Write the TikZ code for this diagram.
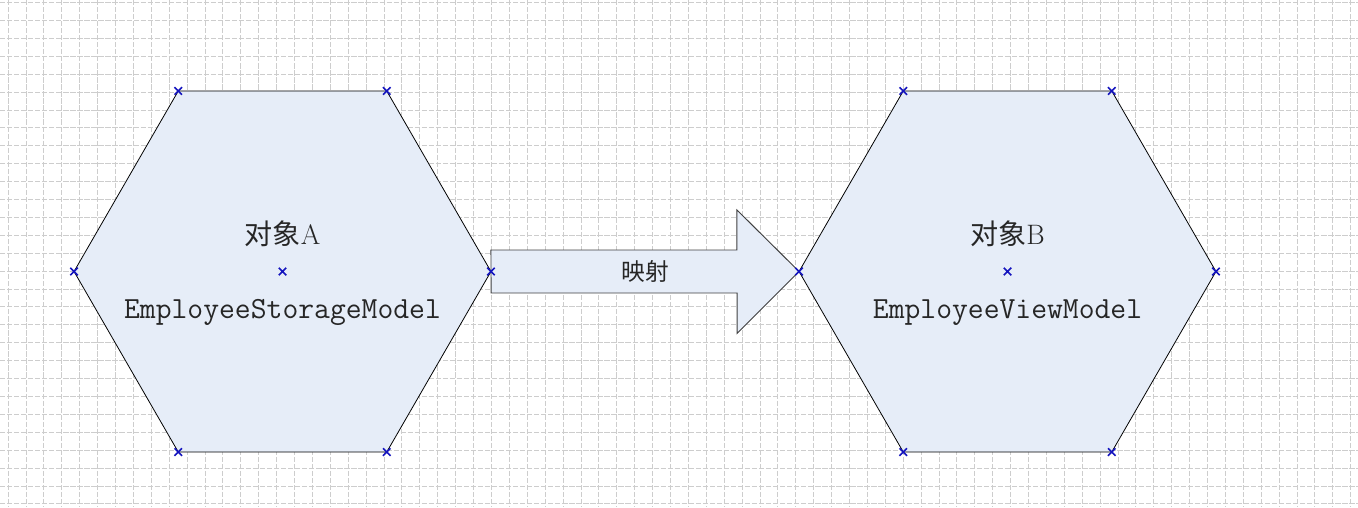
\documentclass[tikz,border=0pt]{standalone}
\usepackage{fontspec}
\newfontfamily\cjk{Noto Sans CJK SC}
\usetikzlibrary{shapes.geometric,shapes.misc,calc}
\definecolor{hexfill}{RGB}{230,237,248}
\definecolor{markblue}{RGB}{20,20,190}
\definecolor{gridgray}{RGB}{205,205,205}
\tikzset{
  gridline/.style={draw=gridgray, line width=0.35pt, dash pattern=on 3pt off 1pt},
  hexbox/.style={regular polygon, regular polygon sides=6, minimum size=8.34cm,
    inner sep=0pt, outer sep=0pt, draw=black, line width=0.45pt, fill=hexfill},
  blockarrow/.style={draw=black!75, line width=0.55pt, fill=hexfill},
  xmark/.style={cross out, draw=markblue, line width=0.9pt, minimum size=0.15cm,
    inner sep=0pt, outer sep=0pt},
  cntext/.style={font=\fontsize{16}{19}\selectfont, text=black!85, inner sep=0pt},
  modeltext/.style={font=\fontsize{17.5}{20}\selectfont\ttfamily, text=black!85, inner sep=0pt},
  maptext/.style={font=\cjk\fontsize{13.5}{16}\selectfont, text=black!85, inner sep=0pt}
}
\begin{document}
\begin{tikzpicture}[x=0.02cm, y=-0.02cm]
  \useasboundingbox (0,0) rectangle (1358,507);
  % background grid
  \foreach \k in {0,...,75}
    \draw[gridline] ({8+17.9*\k},0) -- ({8+17.9*\k},507);
  \foreach \k in {0,...,28}
    \draw[gridline] (0,{2.5+17.9*\k}) -- (1358,{2.5+17.9*\k});
  % the two objects
  \node[hexbox] (hexA) at (282.5,271.5) {};
  \node[hexbox] (hexB) at (1007.5,271.5) {};
  % mapping arrow
  \draw[blockarrow] (hexA.east) ++(0,-21.5) -- ++(246,0) -- ++(0,-40)
    -- (hexB.west) -- ++(-62,62) -- ++(0,-40.5) -- ++(-246,0) -- cycle;
  \node[maptext] (mapLbl) at ($(hexA.east)!0.5!(hexB.west)$) {映射};
  % labels
  \node[cntext, anchor=base] (titA) at ($(hexA.center)+(0,-27.5)$) {{\cjk 对象}A};
  \node[modeltext, anchor=base] (nameA) at ($(hexA.center)+(0,47)$) {EmployeeStorageModel};
  \node[cntext, anchor=base] (titB) at ($(hexB.center)+(0,-27.5)$) {{\cjk 对象}B};
  \node[modeltext, anchor=base] (nameB) at ($(hexB.center)+(0,47)$) {EmployeeViewModel};
  % handles
  \foreach \h in {hexA,hexB} {
    \foreach \c in {1,...,6}
      \node[xmark] (\h m\c) at (\h.corner \c) {};
    \node[xmark] (\h mc) at (\h.center) {};
  }
\end{tikzpicture}
\end{document}
